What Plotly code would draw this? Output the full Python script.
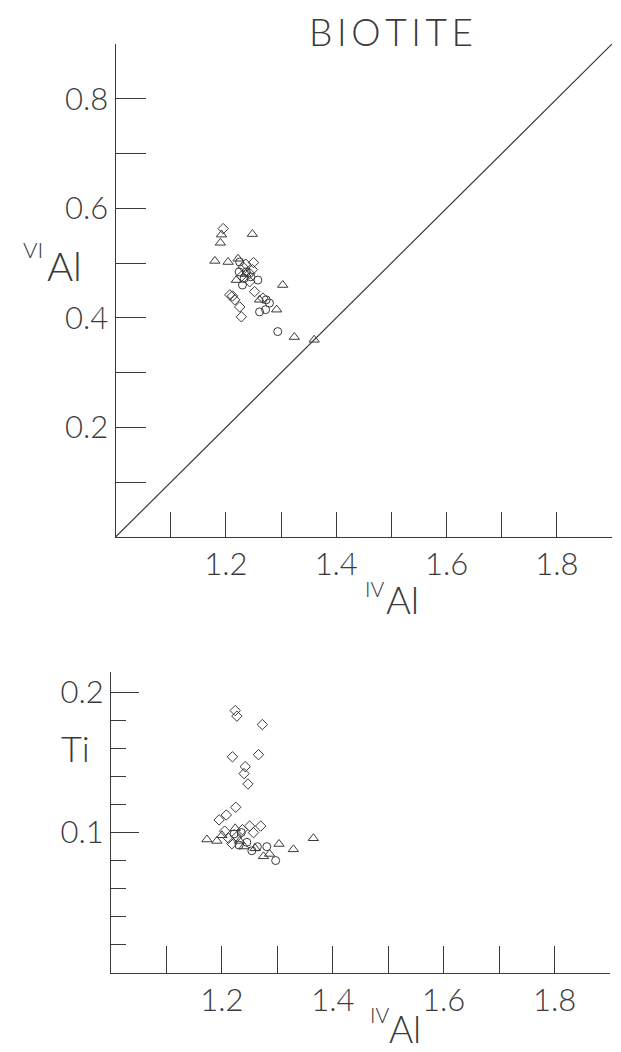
import plotly.graph_objects as go

# The page adds an 8px body margin; lay out in reference pixels and shift.
OFF = 8
W, H = 621 - OFF, 1052 - OFF

# ---------------- data ----------------
# Upper panel: IV-Al vs VI-Al
top_diamond_x = [1.195, 1.250, 1.231, 1.243, 1.243, 1.252, 1.207, 1.216, 1.225, 1.228, 1.267, 1.212, 1.236, 1.228, 1.248]
top_diamond_y = [0.563, 0.501, 0.493, 0.481, 0.466, 0.448, 0.442, 0.433, 0.420, 0.402, 0.436, 0.440, 0.498, 0.476, 0.488]
top_triangle_x = [1.192, 1.190, 1.248, 1.180, 1.204, 1.222, 1.219, 1.303, 1.261, 1.292, 1.324, 1.360, 1.236]
top_triangle_y = [0.552, 0.537, 0.553, 0.504, 0.502, 0.508, 0.469, 0.460, 0.433, 0.415, 0.365, 0.360, 0.480]
top_circle_x = [1.225, 1.237, 1.224, 1.230, 1.258, 1.273, 1.279, 1.261, 1.272, 1.294, 1.233, 1.245]
top_circle_y = [0.502, 0.484, 0.484, 0.460, 0.469, 0.433, 0.427, 0.411, 0.415, 0.375, 0.472, 0.475]

# 1:1 reference line
diag_x = [1.0, 1.9]
diag_y = [0.0, 0.9]

# Lower panel: IV-Al vs Ti
bot_diamond_x = [1.224, 1.227, 1.273, 1.219, 1.266, 1.242, 1.240, 1.247, 1.225, 1.208, 1.195, 1.250, 1.270, 1.205, 1.237, 1.257, 1.212, 1.227, 1.218]
bot_diamond_y = [0.187, 0.183, 0.177, 0.154, 0.1555, 0.147, 0.142, 0.1346, 0.118, 0.1125, 0.109, 0.1046, 0.1046, 0.101, 0.102, 0.0999, 0.0959, 0.097, 0.092]
bot_triangle_x = [1.224, 1.173, 1.191, 1.240, 1.260, 1.303, 1.329, 1.365, 1.275, 1.286, 1.200, 1.232]
bot_triangle_y = [0.103, 0.095, 0.094, 0.090, 0.0887, 0.0918, 0.088, 0.0959, 0.083, 0.0847, 0.098, 0.094]
bot_circle_x = [1.231, 1.264, 1.281, 1.297, 1.222, 1.245, 1.254, 1.235]
bot_circle_y = [0.091, 0.0899, 0.0899, 0.080, 0.099, 0.093, 0.087, 0.100]

# ticks
x_major = [1.2, 1.4, 1.6, 1.8]
x_major_text = ["1.2", "1.4", "1.6", "1.8"]
x_minor = [1.1, 1.3, 1.5, 1.7, 1.9]
top_y_major = [0.2, 0.4, 0.6, 0.8]
top_y_major_text = ["0.2", "0.4", "0.6", "0.8"]
top_y_minor = [0.1, 0.3, 0.5, 0.7]
bot_y_major = [0.1, 0.2]
bot_y_major_text = ["0.1", "0.2"]
bot_y_minor = [0.02, 0.04, 0.06, 0.08, 0.12, 0.14, 0.16, 0.18]

# ---------------- figure ----------------
INK = "#3a3a3a"
FONT = "Lato"

fig = go.Figure()

def add_pts(x, y, sym, size, xa, ya):
    fig.add_trace(go.Scatter(
        x=x, y=y, mode="markers", xaxis=xa, yaxis=ya,
        marker=dict(symbol=sym, size=size, color=INK, line=dict(width=1, color=INK)),
        showlegend=False, cliponaxis=False))

fig.add_trace(go.Scatter(x=diag_x, y=diag_y, mode="lines", xaxis="x", yaxis="y",
                         line=dict(color=INK, width=1.2), showlegend=False))
add_pts(top_diamond_x, top_diamond_y, "diamond-open", 8, "x", "y")
add_pts(top_triangle_x, top_triangle_y, "triangle-up-open", 9, "x", "y")
add_pts(top_circle_x, top_circle_y, "circle-open", 8, "x", "y")
add_pts(bot_diamond_x, bot_diamond_y, "diamond-open", 8, "x2", "y2")
add_pts(bot_triangle_x, bot_triangle_y, "triangle-up-open", 9, "x2", "y2")
add_pts(bot_circle_x, bot_circle_y, "circle-open", 8, "x2", "y2")

def px(x0, x1):
    return [(x0 - OFF) / W, min(1.0, (x1 - OFF) / W)]

def py(top, bottom):
    return [(H - (bottom - OFF)) / H, (H - (top - OFF)) / H]

axis_common = dict(showline=True, linecolor=INK, linewidth=1.3, showgrid=False,
                   zeroline=False, ticks="inside", tickcolor=INK, tickwidth=1.3,
                   tickfont=dict(family=FONT, size=31, color=INK, weight=300))

fig.update_layout(
    width=W, height=H, autosize=False,
    margin=dict(l=0, r=0, t=0, b=0),
    paper_bgcolor="white", plot_bgcolor="white",
    font=dict(family=FONT, color=INK),
    xaxis=dict(domain=px(115.6, 612), range=[1.0, 1.9], anchor="y",
               tickvals=x_major, ticktext=x_major_text, ticklen=25,
               minor=dict(tickvals=x_minor, ticklen=25, ticks="inside", tickcolor=INK, tickwidth=1.3),
               **axis_common),
    yaxis=dict(domain=py(44, 537), range=[0, 0.9], anchor="x",
               tickvals=top_y_major, ticktext=top_y_major_text, ticklen=30,
               minor=dict(tickvals=top_y_minor, ticklen=30, ticks="inside", tickcolor=INK, tickwidth=1.3),
               **axis_common),
    xaxis2=dict(domain=px(111, 610), range=[1.0, 1.9], anchor="y2",
                tickvals=x_major, ticktext=x_major_text, ticklen=27,
                minor=dict(tickvals=x_minor, ticklen=27, ticks="inside", tickcolor=INK, tickwidth=1.3),
                **axis_common),
    yaxis2=dict(domain=py(671.7, 972.7), range=[0, 0.2147], anchor="x2",
                tickvals=bot_y_major, ticktext=bot_y_major_text, ticklen=28,
                minor=dict(tickvals=bot_y_minor, ticklen=15, ticks="inside", tickcolor=INK, tickwidth=1.3),
                **axis_common),
)

def ann(text, cx, cy, size, yanchor="middle"):
    fig.add_annotation(text=text, x=(cx - OFF) / W, y=1 - (cy - OFF) / H,
                       xref="paper", yref="paper",
                       xanchor="center", yanchor=yanchor, showarrow=False,
                       borderpad=0,
                       font=dict(family=FONT, size=size, color=INK, weight=300))

ann("B\u2009I\u2009O\u2009T\u2009I\u2009T\u2009E", 391, OFF, 37, yanchor="top")
# upper y title
ann("VI", 33, 250, 22)
ann("Al", 64, 266, 40)
# upper x title
ann("IV", 374, 588, 21)
ann("Al", 402, 599, 38)
# lower y title
ann("Ti", 75, 748, 36)
# lower x title
ann("IV", 379, 1014, 21)
ann("Al", 405, 1052, 37, yanchor="bottom")

fig.write_html("out.html")
